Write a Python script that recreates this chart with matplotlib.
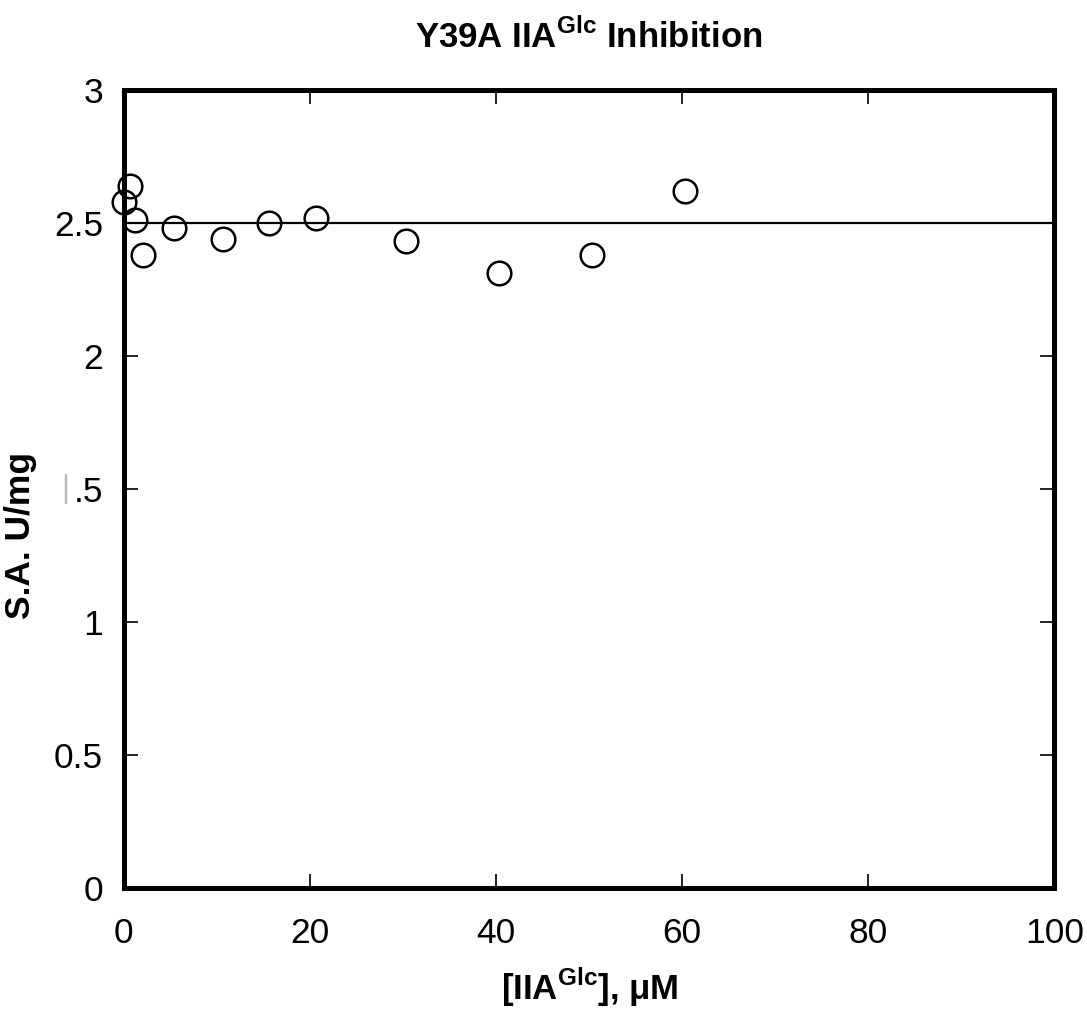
import matplotlib

matplotlib.use("Agg")
import matplotlib.pyplot as plt

plt.rcParams["font.family"] = ["Liberation Sans", "DejaVu Sans"]
plt.rcParams["mathtext.fontset"] = "custom"
plt.rcParams["mathtext.rm"] = "Liberation Sans"
plt.rcParams["mathtext.bf"] = "Liberation Sans:bold"

# measured points
conc = [0.0, 0.6, 1.2, 2.0, 5.4, 10.6, 15.6, 20.6, 30.3, 40.3, 50.3, 60.3]
activity = [2.58, 2.64, 2.51, 2.38, 2.48, 2.44, 2.50, 2.52, 2.43, 2.31, 2.38, 2.62]

# fitted constant level
fit_x = [0, 100]
fit_y = [2.5, 2.5]

x_ticks = [0, 20, 40, 60, 80, 100]
y_ticks = [0, 0.5, 1, 1.5, 2, 2.5, 3]
y_tick_labels = ["0", "0.5", "1", ".5", "2", "2.5", "3"]

fig = plt.figure(figsize=(10.87, 10.09), dpi=100)
ax = fig.add_axes([0.114, 0.120, 0.856, 0.791])

ax.plot(fit_x, fit_y, color="black", lw=1.6, zorder=2)
ax.plot(conc, activity, "o", ms=17, mfc="none", mec="black", mew=1.8,
        zorder=3, clip_on=False)

ax.set_xlim(0, 100)
ax.set_ylim(0, 3)
ax.set_xticks(x_ticks)
ax.set_yticks(y_ticks)
ax.set_yticklabels(y_tick_labels)

ax.tick_params(direction="in", length=10, width=1.2, labelsize=25.5,
               top=True, right=True, pad=15)
ax.tick_params(axis="x", pad=21)
for s in ax.spines.values():
    s.set_linewidth(3.6)

ax.set_title(r"Y39A IIA$^{\mathbf{Glc}}$ Inhibition", fontsize=25,
             fontweight="bold", pad=30)
ax.set_xlabel(r"[IIA$^{\mathbf{Glc}}$], μM", fontsize=25,
              fontweight="bold", labelpad=11)
ax.set_ylabel("S.A. U/mg", fontsize=25.5, fontweight="bold")
# label sits lower than the axis centre in the original
ax.yaxis.set_label_coords(-0.093, 0.442)

# faint remnant of the hidden "1" in the 1.5 label
fig.text(65 / 1087, 1 - 489 / 1009, "|", fontsize=22, color="#bbbbbb",
         ha="center", va="center")

fig.savefig("out.png", dpi=100)
